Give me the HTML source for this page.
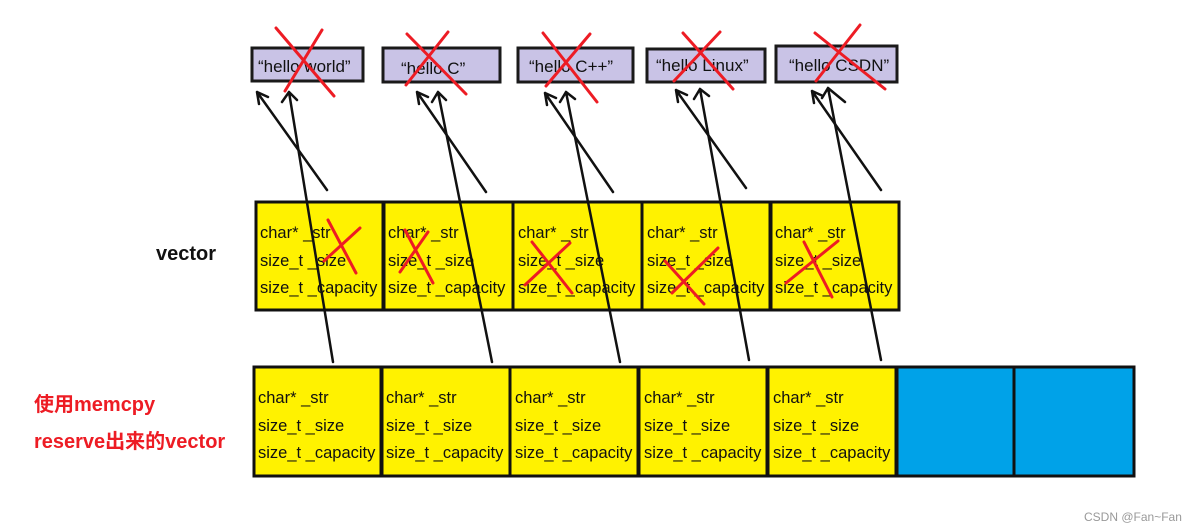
<!DOCTYPE html>
<html><head><meta charset="utf-8"><style>body{margin:0;background:#fff}svg{display:block}</style></head><body>
<svg width="1194" height="530" xmlns="http://www.w3.org/2000/svg" font-family="'Liberation Sans','Noto Sans CJK SC',sans-serif">
<g fill="#c9c3e6" stroke="#1a1a1a" stroke-width="3">
<rect x="252" y="48" width="111" height="33"/>
<rect x="383" y="48" width="117" height="34"/>
<rect x="518" y="48" width="115" height="34"/>
<rect x="647" y="49" width="118" height="33"/>
<rect x="776" y="46" width="121" height="36"/>
</g>
<g font-size="17" fill="#111">
<text x="258" y="72">“hello world”</text>
<text x="401" y="74">“hello C”</text>
<text x="529" y="72">“hello C++”</text>
<text x="656" y="71">“hello Linux”</text>
<text x="789" y="71">“hello CSDN”</text>
</g>
<g fill="#fff200" stroke="#111" stroke-width="3">
<rect x="256" y="202" width="127" height="108"/><rect x="384" y="202" width="129" height="108"/><rect x="513" y="202" width="129" height="108"/><rect x="642" y="202" width="128" height="108"/><rect x="771" y="202" width="128" height="108"/>
<rect x="254" y="367" width="127" height="109"/><rect x="382" y="367" width="128" height="109"/><rect x="510" y="367" width="128" height="109"/><rect x="639" y="367" width="128" height="109"/><rect x="768" y="367" width="128" height="109"/>
<rect x="897" y="367" width="117" height="109" fill="#00a2e8"/><rect x="1014" y="367" width="120" height="109" fill="#00a2e8"/>
</g>
<g font-size="16.5" fill="#111">
<g transform="translate(260,0)"><text y="238">char* _str</text><text y="266">size_t _size</text><text y="293">size_t _capacity</text></g>
<g transform="translate(388,0)"><text y="238">char* _str</text><text y="266">size_t _size</text><text y="293">size_t _capacity</text></g>
<g transform="translate(518,0)"><text y="238">char* _str</text><text y="266">size_t _size</text><text y="293">size_t _capacity</text></g>
<g transform="translate(647,0)"><text y="238">char* _str</text><text y="266">size_t _size</text><text y="293">size_t _capacity</text></g>
<g transform="translate(775,0)"><text y="238">char* _str</text><text y="266">size_t _size</text><text y="293">size_t _capacity</text></g>
<g transform="translate(258,0)"><text y="403">char* _str</text><text y="431">size_t _size</text><text y="458">size_t _capacity</text></g>
<g transform="translate(386,0)"><text y="403">char* _str</text><text y="431">size_t _size</text><text y="458">size_t _capacity</text></g>
<g transform="translate(515,0)"><text y="403">char* _str</text><text y="431">size_t _size</text><text y="458">size_t _capacity</text></g>
<g transform="translate(644,0)"><text y="403">char* _str</text><text y="431">size_t _size</text><text y="458">size_t _capacity</text></g>
<g transform="translate(773,0)"><text y="403">char* _str</text><text y="431">size_t _size</text><text y="458">size_t _capacity</text></g>
</g>
<text x="156" y="260" font-size="20" font-weight="bold" fill="#111">vector</text>
<text x="34" y="411" font-size="20" font-weight="bold" fill="#ed1c24">使用memcpy</text>
<text x="34" y="448" font-size="20" font-weight="bold" fill="#ed1c24">reserve出来的vector</text>
<text x="1084" y="521" font-size="12" fill="#999">CSDN @Fan~Fan</text>
<g stroke="#111" stroke-width="2.5" fill="none" stroke-linecap="round">
<path d="M327 190L257 92M257 92l2 12M257 92l11 5"/><path d="M333 362L289 92M289 92l-7 10M289 92l8 8"/>
<path d="M486 192L417 92M417 92l2 12M417 92l11 5"/><path d="M492 362L438 92M438 92l-6 10M438 92l8 8"/>
<path d="M613 192L545 93M545 93l2 12M545 93l11 5"/><path d="M620 362L566 92M566 92l-6 10M566 92l9 7"/>
<path d="M746 188L676 90M676 90l2 12M676 90l11 5"/><path d="M749 360L700 89M700 89l-6 10M700 89l9 7"/>
<path d="M881 190L812 91M812 91l2 12M812 91l11 5"/><path d="M881 360L828 88M828 88l-6 10M828 88l17 14"/>
</g>
<g stroke="#ed1c24" stroke-width="3" stroke-linecap="round">
<path d="M276 28L334 96M322 30L285 91"/>
<path d="M407 34L466 94M448 32L406 85"/>
<path d="M543 33L597 102M590 34L546 86"/>
<path d="M683 33L733 89M720 32L674 81"/>
<path d="M815 33L885 89M860 25L816 81"/>
<path d="M328 220L356 273M360 228L324 261"/>
<path d="M405 230L433 283M428 232L400 272"/>
<path d="M532 242L572 293M570 243L525 285"/>
<path d="M665 261L704 304M718 248L672 293"/>
<path d="M804 242L832 297M838 241L786 283"/>
</g>
</svg>
</body></html>
